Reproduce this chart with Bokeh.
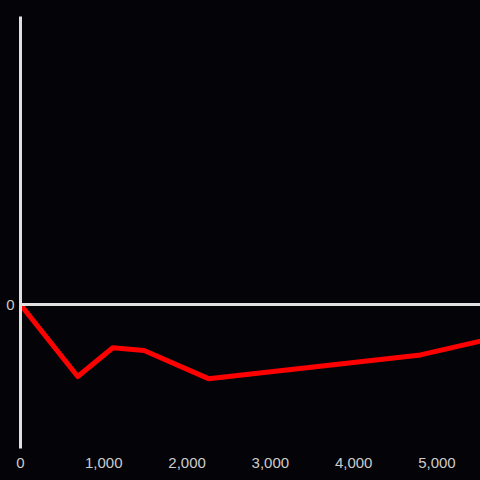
from bokeh.plotting import figure
from bokeh.models import FixedTicker, NumeralTickFormatter, Span, Range1d
from bokeh.embed import file_html
from bokeh.resources import INLINE

x_vals = [0, 687, 1108, 1484, 2257, 4802, 5523]
y_vals = [0, -0.50, -0.30, -0.32, -0.515, -0.35, -0.254]
x_ticks = [0, 1000, 2000, 3000, 4000, 5000]
y_ticks = [0]

BG = "#040307"
FG = "#e0e0e0"
LBL = "#cccccc"

p = figure(width=480, height=480, output_backend="svg", toolbar_location=None,
           x_range=Range1d(0, 5523), y_range=Range1d(-1, 2),
           background_fill_color=BG, border_fill_color=BG,
           min_border_left=20, min_border_right=0, min_border_top=16, min_border_bottom=32)
p.outline_line_color = None
p.grid.visible = False

p.add_layout(Span(location=0, dimension="width", line_color=FG, line_width=3))
p.line(x_vals, y_vals, line_color="#ff0000", line_width=5, line_join="round")

p.xaxis.ticker = FixedTicker(ticks=x_ticks)
p.xaxis.formatter = NumeralTickFormatter(format="0,0")
p.xaxis.axis_line_color = None
p.xaxis.major_tick_line_color = None
p.xaxis.minor_tick_line_color = None
p.xaxis.major_label_standoff = 3
p.xaxis.major_label_text_color = LBL
p.xaxis.major_label_text_font = "Liberation Sans"
p.xaxis.major_label_text_font_size = "15px"

p.yaxis.ticker = FixedTicker(ticks=y_ticks)
p.yaxis.axis_line_color = FG
p.yaxis.axis_line_width = 3
p.yaxis.major_tick_line_color = None
p.yaxis.minor_tick_line_color = None
p.yaxis.major_label_standoff = 0
p.yaxis.major_label_text_color = LBL
p.yaxis.major_label_text_font = "Liberation Sans"
p.yaxis.major_label_text_font_size = "15px"

html = file_html(p, INLINE)
html = html.replace("</head>", "<style>html,body{margin:0;padding:0;background:%s;}</style></head>" % BG)
open("out.html", "w").write(html)
